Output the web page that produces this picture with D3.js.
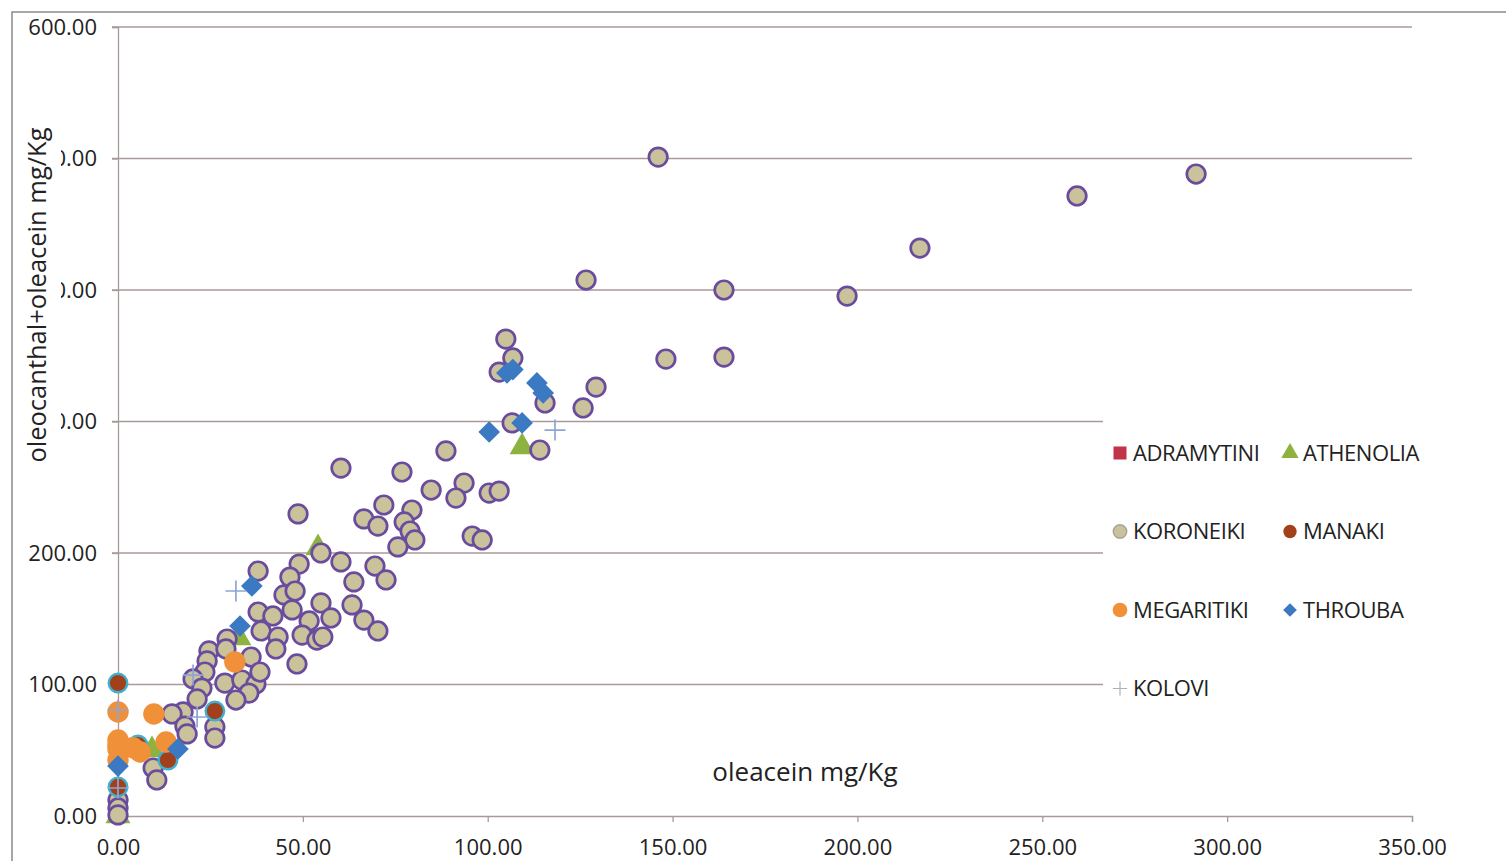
<!DOCTYPE html>
<html>
<head>
<meta charset="utf-8">
<script src="https://cdn.jsdelivr.net/npm/d3@7"></script>
<style>
  body { margin: 0; background: #fff; }
  svg { display: block; }
</style>
</head>
<body>
<svg id="chart" width="1506" height="861"></svg>
<script>
const xTicks = [0, 50, 100, 150, 200, 250, 300, 350];
const yTicks = [0, 100, 200, 300, 400, 500, 600];

const adramytini = [[0, 21], [0, 2]];
const athenolia = [[109.3, 280.6], [54.1, 203.8], [32.7, 135.4], [9.2, 50.2], [0, 0]];
const koroneiki = [
  [146.1, 501.1], [291.6, 488.2], [259.4, 471.5], [216.9, 431.9], [126.6, 407.6],
  [163.9, 400.0], [197.2, 395.4], [104.9, 362.7], [106.8, 348.3], [148.2, 347.5],
  [163.9, 349.0], [103.1, 337.6], [129.3, 326.2], [115.5, 314.1], [125.8, 310.3],
  [106.6, 298.9], [114.1, 278.3], [88.7, 277.6], [60.3, 264.6], [76.8, 261.6],
  [93.6, 253.2], [84.7, 247.9], [91.4, 241.8], [100.4, 245.6], [103.1, 247.1],
  [71.9, 236.5], [48.7, 229.7], [66.5, 225.9], [70.3, 220.5], [79.5, 232.7],
  [77.4, 223.6], [79.0, 216.7], [95.8, 212.9], [98.5, 209.9], [80.3, 209.9],
  [75.7, 204.6], [54.9, 200.0], [60.3, 193.2], [49.0, 191.6], [69.5, 190.1],
  [63.8, 178.0], [72.5, 179.5], [46.5, 181.7], [37.9, 186.3], [44.9, 168.1],
  [47.9, 171.1], [47.1, 156.7], [54.9, 162.0], [63.3, 160.5], [37.9, 155.1],
  [41.9, 152.1], [57.6, 150.6], [51.7, 148.3], [66.5, 149.0], [38.7, 140.7],
  [43.3, 136.1], [42.7, 127.0], [49.8, 137.6], [53.8, 133.8], [55.4, 136.1],
  [70.3, 140.7], [29.5, 134.6], [24.6, 125.5], [29.2, 127.0], [36.0, 120.9],
  [48.4, 115.6], [24.1, 117.9], [23.5, 109.5], [20.3, 104.2], [28.9, 101.1],
  [33.5, 103.4], [37.3, 100.4], [38.4, 109.5], [35.4, 93.5], [31.9, 88.2],
  [22.7, 97.3], [21.4, 89.0], [17.6, 79.1], [14.6, 77.6], [18.1, 68.4],
  [18.7, 62.4], [26.2, 67.7], [26.2, 59.3], [9.5, 36.5], [10.5, 27.4],
  [0, 12.2], [0, 6.1], [0, 0.8]
];
const manaki = [[0, 101.1], [26.2, 79.8], [13.5, 42.6], [0, 22.1], [5.4, 54.0]];
const megaritiki = [
  [0, 79.1], [9.7, 77.6], [0, 57.8], [0, 51.0], [0, 42.6], [6.0, 48.7],
  [13.0, 56.3], [31.6, 117.1], [0, 54.0], [4.0, 52.0]
];
const throuba = [
  [0, 38.0], [16.2, 51.0], [33.0, 144.5], [36.2, 174.9], [105.2, 336.9],
  [106.8, 339.5], [113.3, 329.3], [115.0, 321.7], [100.4, 292.0], [109.3, 298.9]
];
const kolovi = [[31.9, 171.1], [118.2, 293.5], [0, 80.6], [21.4, 75.3], [0, 21.3], [20.3, 107.2]];

const seriesNames = ['ADRAMYTINI', 'ATHENOLIA', 'KORONEIKI', 'MANAKI', 'MEGARITIKI', 'THROUBA', 'KOLOVI'];

(function (d) {
  const width = 1506, height = 861;
  const margin = {top: 27, right: 94, bottom: 45, left: 118};
  const font = '"Open Sans", sans-serif';
  const gridColor = '#a89a98';

  const plus = {
    draw: function (ctx, size) {
      const r = Math.sqrt(size) / 2;
      ctx.moveTo(-r, 0); ctx.lineTo(r, 0);
      ctx.moveTo(0, -r); ctx.lineTo(0, r);
    }
  };

  const styles = {
    ADRAMYTINI: {data: adramytini, type: d3.symbolSquare, size: 250, legendSize: 170, fill: '#c0354a', stroke: 'none', sw: 0},
    ATHENOLIA: {data: athenolia, type: d3.symbolTriangle, size: 270, legendSize: 130, fill: '#8db23f', stroke: 'none', sw: 0},
    KORONEIKI: {data: koroneiki, type: d3.symbolCircle, size: 270, legendSize: 140, fill: '#c9c29a', stroke: '#6a4c9e', sw: 2.7},
    MANAKI: {data: manaki, type: d3.symbolCircle, size: 270, legendSize: 140, fill: '#a3401c', stroke: '#3fb0cf', sw: 2.4},
    MEGARITIKI: {data: megaritiki, type: d3.symbolCircle, size: 360, legendSize: 170, fill: '#f0913a', stroke: 'none', sw: 0},
    THROUBA: {data: throuba, type: d3.symbolDiamond2, size: 300, legendSize: 120, fill: '#3b79c2', stroke: 'none', sw: 0},
    KOLOVI: {data: kolovi, type: plus, size: 440, legendSize: 200, fill: 'none', stroke: '#8ea5d6', sw: 1.7}
  };

  const x = d3.scaleLinear().domain([0, 350]).range([margin.left, width - margin.right]);
  const y = d3.scaleLinear().domain([0, 600]).range([height - margin.bottom, margin.top]);

  const svg = d3.select('#chart');

  // outer frame
  svg.append('rect')
    .attr('x', 12).attr('y', 12)
    .attr('width', width).attr('height', height)
    .attr('fill', 'none').attr('stroke', '#8a8a8a').attr('stroke-width', 1.5);

  // gridlines
  svg.append('g')
    .selectAll('line')
    .data(yTicks.filter(t => t > 0))
    .enter().append('line')
    .attr('x1', margin.left - 6).attr('x2', x(350))
    .attr('y1', t => y(t)).attr('y2', t => y(t))
    .attr('stroke', gridColor).attr('stroke-width', 1.3);

  // y axis
  svg.append('g')
    .attr('transform', `translate(${margin.left},0)`)
    .call(d3.axisLeft(y).tickValues(yTicks).tickSize(6).tickPadding(15).tickFormat(d3.format('.2f')))
    .call(g => g.selectAll('.domain, .tick line').attr('stroke', gridColor).attr('stroke-width', 1.3))
    .call(g => g.selectAll('text').attr('font-family', font).attr('font-size', 22).attr('fill', '#222'));

  // x axis
  svg.append('g')
    .attr('transform', `translate(0,${y(0)})`)
    .call(d3.axisBottom(x).tickValues(xTicks).tickSize(6).tickPadding(17).tickFormat(d3.format('.2f')))
    .call(g => g.selectAll('.domain, .tick line').attr('stroke', gridColor).attr('stroke-width', 1.3))
    .call(g => g.selectAll('text').attr('font-family', font).attr('font-size', 22).attr('fill', '#222'));

  // points, drawn in series order
  const symbol = d3.symbol();
  seriesNames.forEach(name => {
    const s = styles[name];
    svg.append('g')
      .selectAll('path')
      .data(s.data)
      .enter().append('path')
      .attr('transform', p => `translate(${x(p[0])},${y(p[1])})`)
      .attr('d', symbol.type(s.type).size(s.size)())
      .attr('fill', s.fill)
      .attr('stroke', s.stroke)
      .attr('stroke-width', s.sw);
  });

  // legend box (white, hides the gridlines behind it)
  const legend = svg.append('g').attr('transform', 'translate(1103,405)');
  legend.append('rect')
    .attr('width', x(350) - 1103 + 2).attr('height', 315)
    .attr('fill', '#fff');

  const items = legend.selectAll('g')
    .data(seriesNames)
    .enter().append('g')
    .attr('transform', (n, i) => `translate(${17 + (i % 2) * 170},${48 + Math.floor(i / 2) * 78.5})`);

  items.append('path')
    .attr('d', n => symbol.type(styles[n].type).size(styles[n].legendSize)())
    .attr('fill', n => styles[n].fill)
    .attr('stroke-width', n => n === 'KOLOVI' ? 1.2 : (n === 'KORONEIKI' ? 1.5 : 0))
    .attr('stroke', n => n === 'KOLOVI' ? '#b0b0b0' : (n === 'KORONEIKI' ? '#a9a497' : 'none'));

  items.append('text')
    .attr('x', 13)
    .attr('dy', '0.36em')
    .attr('font-family', font)
    .attr('font-size', 22)
    .attr('letter-spacing', -0.4)
    .attr('fill', '#222')
    .text(n => n);

  // y axis title with white backing (covers part of tick labels)
  svg.append('rect')
    .attr('x', 20).attr('y', 122).attr('width', 41).attr('height', 346)
    .attr('fill', '#fff');
  svg.append('text')
    .attr('transform', `translate(46,${(128 + 462) / 2}) rotate(-90)`)
    .attr('text-anchor', 'middle')
    .attr('font-family', font)
    .attr('font-size', 25.5)
    .attr('fill', '#222')
    .text('oleocanthal+oleacein mg/Kg');

  // x axis title, inside the plot
  svg.append('text')
    .attr('x', 805).attr('y', 781)
    .attr('text-anchor', 'middle')
    .attr('font-family', font)
    .attr('font-size', 26)
    .attr('fill', '#222')
    .text('oleacein mg/Kg');
}(document));
</script>
</body>
</html>
